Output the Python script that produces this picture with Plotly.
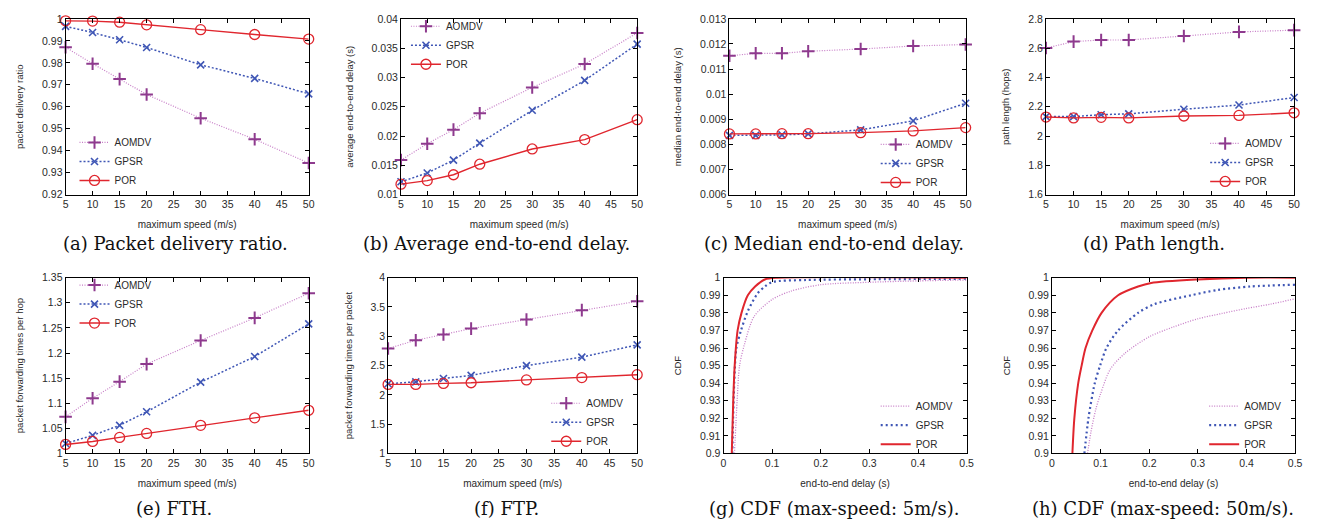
import plotly.graph_objects as go

# ---------------- data ----------------
speed = [5, 10, 15, 20, 30, 40, 50]

pdr_aomdv = [0.9871, 0.9796, 0.9726, 0.9656, 0.9548, 0.9452, 0.9344]
pdr_gpsr = [0.9966, 0.9938, 0.9905, 0.9870, 0.9791, 0.9729, 0.9659]
pdr_por = [0.9991, 0.9990, 0.9985, 0.9973, 0.9951, 0.9929, 0.9908]

avg_aomdv = [0.0159, 0.0187, 0.0211, 0.0239, 0.0283, 0.0323, 0.0376]
avg_gpsr = [0.0122, 0.0137, 0.0159, 0.0188, 0.0244, 0.0295, 0.0357]
avg_por = [0.0118, 0.0124, 0.0134, 0.0152, 0.0178, 0.0194, 0.0228]

med_aomdv = [0.01153, 0.01163, 0.01163, 0.01171, 0.01180, 0.01192, 0.01198]
med_gpsr = [0.00836, 0.00836, 0.00838, 0.00842, 0.00858, 0.00894, 0.00964]
med_por = [0.00842, 0.00842, 0.00843, 0.00843, 0.00847, 0.00854, 0.00867]

path_aomdv = [2.601, 2.645, 2.656, 2.656, 2.683, 2.711, 2.723]
path_gpsr = [2.133, 2.133, 2.146, 2.152, 2.183, 2.212, 2.263]
path_por = [2.130, 2.124, 2.128, 2.124, 2.137, 2.141, 2.159]

fth_aomdv = [1.073, 1.110, 1.143, 1.178, 1.225, 1.270, 1.319]
fth_gpsr = [1.020, 1.036, 1.056, 1.083, 1.142, 1.193, 1.258]
fth_por = [1.018, 1.024, 1.032, 1.040, 1.056, 1.071, 1.086]

ftp_aomdv = [2.793, 2.932, 3.031, 3.131, 3.286, 3.446, 3.596]
ftp_gpsr = [2.190, 2.223, 2.279, 2.334, 2.500, 2.644, 2.854]
ftp_por = [2.179, 2.179, 2.196, 2.207, 2.256, 2.295, 2.345]

# CDF, max speed 5 m/s
cdf5_aomdv_x = [0.0225, 0.028, 0.033, 0.043, 0.063, 0.1, 0.138, 0.2, 0.3, 0.4, 0.5]
cdf5_aomdv_y = [0.9, 0.93, 0.95, 0.962, 0.978, 0.9876, 0.9923, 0.996, 0.9974, 0.9982, 0.9987]
cdf5_gpsr_x = [0.018, 0.022, 0.0265, 0.036, 0.05, 0.07, 0.085, 0.1, 0.17, 0.3, 0.5]
cdf5_gpsr_y = [0.9, 0.94, 0.96, 0.97, 0.981, 0.991, 0.995, 0.9975, 0.9987, 0.9991, 0.9994]
cdf5_por_x = [0.017, 0.020, 0.023, 0.029, 0.037, 0.050, 0.065, 0.085, 0.11, 0.5]
cdf5_por_y = [0.9, 0.93, 0.95, 0.97, 0.98, 0.99, 0.995, 0.999, 1.0, 1.0]

# CDF, max speed 50 m/s
cdf50_aomdv_x = [0.073, 0.08, 0.09, 0.1, 0.12, 0.15, 0.2, 0.25, 0.3, 0.35, 0.4, 0.45, 0.5]
cdf50_aomdv_y = [0.9, 0.912, 0.925, 0.934, 0.948, 0.957, 0.9664, 0.972, 0.9766, 0.9797, 0.9825, 0.985, 0.988]
cdf50_gpsr_x = [0.0667, 0.075, 0.088, 0.099, 0.112, 0.136, 0.177, 0.211, 0.286, 0.34, 0.408, 0.5]
cdf50_gpsr_y = [0.9, 0.92, 0.94, 0.95, 0.96, 0.97, 0.98, 0.985, 0.99, 0.993, 0.995, 0.996]
cdf50_por_x = [0.042, 0.046, 0.054, 0.061, 0.069, 0.083, 0.102, 0.136, 0.177, 0.204, 0.3, 0.4, 0.5]
cdf50_por_y = [0.9, 0.92, 0.94, 0.95, 0.96, 0.97, 0.98, 0.99, 0.995, 0.997, 0.999, 1.0, 1.0]

series_names = ["AOMDV", "GPSR", "POR"]

speed_ticks = [5, 10, 15, 20, 25, 30, 35, 40, 45, 50]
delay_ticks = [0, 0.1, 0.2, 0.3, 0.4, 0.5]
delay_ticktext = ["0", "0.1", "0.2", "0.3", "0.4", "0.5"]

pdr_ticks = [0.92, 0.93, 0.94, 0.95, 0.96, 0.97, 0.98, 0.99, 1.0]
pdr_ticktext = ["0.92", "0.93", "0.94", "0.95", "0.96", "0.97", "0.98", "0.99", "1"]
avg_ticks = [0.01, 0.015, 0.02, 0.025, 0.03, 0.035, 0.04]
avg_ticktext = ["0.01", "0.015", "0.02", "0.025", "0.03", "0.035", "0.04"]
med_ticks = [0.006, 0.007, 0.008, 0.009, 0.010, 0.011, 0.012, 0.013]
med_ticktext = ["0.006", "0.007", "0.008", "0.009", "0.01", "0.011", "0.012", "0.013"]
path_ticks = [1.6, 1.8, 2.0, 2.2, 2.4, 2.6, 2.8]
path_ticktext = ["1.6", "1.8", "2", "2.2", "2.4", "2.6", "2.8"]
fth_ticks = [1.0, 1.05, 1.1, 1.15, 1.2, 1.25, 1.3, 1.35]
fth_ticktext = ["1", "1.05", "1.1", "1.15", "1.2", "1.25", "1.3", "1.35"]
ftp_ticks = [1, 1.5, 2, 2.5, 3, 3.5, 4]
ftp_ticktext = ["1", "1.5", "2", "2.5", "3", "3.5", "4"]
cdf_ticks = [0.9, 0.91, 0.92, 0.93, 0.94, 0.95, 0.96, 0.97, 0.98, 0.99, 1.0]
cdf_ticktext = ["0.9", "0.91", "0.92", "0.93", "0.94", "0.95", "0.96", "0.97", "0.98", "0.99", "1"]

# ---------------- styling ----------------
# The page body has an 8px default margin, so the figure is 16px smaller
# than the window and page-pixel positions are shifted by 8px.
WIN_W, WIN_H, PAD = 1323, 530, 8
FW, FH = WIN_W - 2 * PAD, WIN_H - 2 * PAD


def fx(px):
    return (px - PAD) / FW


def fy(py):
    return 1 - (py - PAD) / FH


SANS = "Liberation Sans, Arial, sans-serif"
SERIF = "DejaVu Serif, Liberation Serif, serif"
TXT = "#2a2a2a"

C_AOM_M = "#8E3A8E"
C_AOM_L = "#C77DC7"
C_GPSR = "#3F56B5"
C_POR = "#E0262E"

line_styles = [
    dict(color=C_AOM_L, width=1.2, dash="1px,1.5px"),
    dict(color=C_GPSR, width=1.5, dash="2px,2px"),
    dict(color=C_POR, width=1.4, dash="solid"),
]
marker_styles = [
    dict(symbol="cross-thin", size=9, color=C_AOM_M, line=dict(color=C_AOM_M, width=2)),
    dict(symbol="x-thin", size=7, color=C_GPSR, line=dict(color=C_GPSR, width=1.6)),
    dict(symbol="circle-open", size=10, color=C_POR, line=dict(color=C_POR, width=1.3)),
]
cdf_line_styles = [
    dict(color=C_AOM_L, width=1.3, dash="1px,1.5px"),
    dict(color=C_GPSR, width=2.2, dash="2px,3px"),
    dict(color=C_POR, width=2.0, dash="solid"),
]

panels = [
    dict(px=(63, 308), py=(13, 193), data=[pdr_aomdv, pdr_gpsr, pdr_por], kind="speed",
         yr=(0.92, 1.0), yt=(pdr_ticks, pdr_ticktext), ytitle="packet delivery ratio",
         cap="(a) Packet delivery ratio.", capx=174, capy=243,
         leg=dict(x=72, y=159, xa="left")),
    dict(px=(401, 639), py=(13, 193), data=[avg_aomdv, avg_gpsr, avg_por], kind="speed",
         yr=(0.01, 0.04), yt=(avg_ticks, avg_ticktext), ytitle="average end-to-end delay (s)",
         cap="(b) Average end-to-end delay.", capx=497, capy=243,
         leg=dict(x=406, y=40, xa="left")),
    dict(px=(732, 970), py=(13, 193), data=[med_aomdv, med_gpsr, med_por], kind="speed",
         yr=(0.006, 0.013), yt=(med_ticks, med_ticktext), ytitle="median end-to-end delay (s)",
         cap="(c) Median end-to-end delay.", capx=837, capy=243,
         leg=dict(x=962, y=161, xa="right")),
    dict(px=(1051, 1301), py=(13, 193), data=[path_aomdv, path_gpsr, path_por], kind="speed",
         yr=(1.6, 2.8), yt=(path_ticks, path_ticktext), ytitle="path length (hops)",
         cap="(d) Path length.", capx=1160, capy=243,
         leg=dict(x=1294, y=160, xa="right")),
    dict(px=(63, 308), py=(278, 458), data=[fth_aomdv, fth_gpsr, fth_por], kind="speed",
         yr=(1.0, 1.35), yt=(fth_ticks, fth_ticktext), ytitle="packet forwarding times per hop",
         cap="(e) FTH.", capx=172, capy=514,
         leg=dict(x=72, y=305, xa="left")),
    dict(px=(388, 639), py=(278, 458), data=[ftp_aomdv, ftp_gpsr, ftp_por], kind="speed",
         yr=(1, 4), yt=(ftp_ticks, ftp_ticktext), ytitle="packet forwarding times per packet",
         cap="(f) FTP.", capx=507, capy=514,
         leg=dict(x=630, y=426, xa="right")),
    dict(px=(726, 971), py=(278, 458),
         data=[(cdf5_aomdv_x, cdf5_aomdv_y), (cdf5_gpsr_x, cdf5_gpsr_y), (cdf5_por_x, cdf5_por_y)],
         kind="cdf", yr=(0.9, 1.0), yt=(cdf_ticks, cdf_ticktext), ytitle="CDF",
         cap="(g) CDF (max-speed: 5m/s).", capx=837, capy=514,
         leg=dict(x=962, y=429, xa="right")),
    dict(px=(1057, 1302), py=(278, 458),
         data=[(cdf50_aomdv_x, cdf50_aomdv_y), (cdf50_gpsr_x, cdf50_gpsr_y), (cdf50_por_x, cdf50_por_y)],
         kind="cdf", yr=(0.9, 1.0), yt=(cdf_ticks, cdf_ticktext), ytitle="CDF",
         cap="(h) CDF (max-speed: 50m/s).", capx=1169, capy=514,
         leg=dict(x=1293, y=429, xa="right")),
]

fig = go.Figure()
layout = dict(
    width=FW, height=FH, margin=dict(l=0, r=0, t=0, b=0),
    paper_bgcolor="white", plot_bgcolor="white",
    font=dict(family=SANS, size=10, color=TXT),
    annotations=[],
)

axis_common = dict(
    ticks="inside", ticklen=4, tickwidth=1, tickcolor="black",
    showline=True, linecolor="black", linewidth=1, mirror="ticks",
    showgrid=False, zeroline=False,
    tickfont=dict(family=SANS, size=10.5, color=TXT),
)

for i, p in enumerate(panels, start=1):
    sfx = "" if i == 1 else str(i)
    xref, yref = "x" + sfx, "y" + sfx
    legname = "legend" + sfx
    x0, x1 = p["px"]
    y0, y1 = p["py"]

    if p["kind"] == "speed":
        xr = (5, 50)
        xtv, xtt = speed_ticks, [str(v) for v in speed_ticks]
        xtitle = "maximum speed (m/s)"
        for k, name in enumerate(series_names):
            fig.add_trace(go.Scatter(
                x=speed, y=p["data"][k], name=name, mode="lines+markers",
                line=line_styles[k], marker=marker_styles[k],
                xaxis=xref, yaxis=yref, legend=legname, cliponaxis=False,
            ))
    else:
        xr = (0, 0.5)
        xtv, xtt = delay_ticks, delay_ticktext
        xtitle = "end-to-end delay (s)"
        for k, name in enumerate(series_names):
            xs, ys = p["data"][k]
            fig.add_trace(go.Scatter(
                x=xs, y=ys, name=name, mode="lines",
                line=dict(shape="spline", smoothing=0.8, **cdf_line_styles[k]),
                xaxis=xref, yaxis=yref, legend=legname,
            ))

    layout["xaxis" + sfx] = dict(
        axis_common, domain=[fx(x0), fx(x1)], range=list(xr), anchor=yref,
        tickvals=xtv, ticktext=xtt,
        title=dict(text=xtitle, font=dict(family=SANS, size=10, color=TXT), standoff=11),
    )
    layout["yaxis" + sfx] = dict(
        axis_common, domain=[fy(y1), fy(y0)], range=list(p["yr"]), anchor=xref,
        tickvals=p["yt"][0], ticktext=p["yt"][1],
        title=dict(text=p["ytitle"], font=dict(family=SANS, size=9.5, color=TXT), standoff=16),
    )
    lg = p["leg"]
    layout[legname] = dict(
        x=fx(lg["x"]), y=fy(lg["y"]), xanchor=lg["xa"], yanchor="middle",
        bgcolor="rgba(0,0,0,0)", font=dict(family=SANS, size=10, color=TXT),
        itemwidth=30, tracegroupgap=0, borderwidth=0,
    )
    layout["annotations"].append(dict(
        text=p["cap"], x=fx(p["capx"]), y=fy(p["capy"]), xref="paper", yref="paper",
        xanchor="center", yanchor="middle", showarrow=False,
        font=dict(family=SERIF, size=18, color="#111"),
    ))

fig.update_layout(**layout)
fig.write_html("out.html", config={"displayModeBar": False})
